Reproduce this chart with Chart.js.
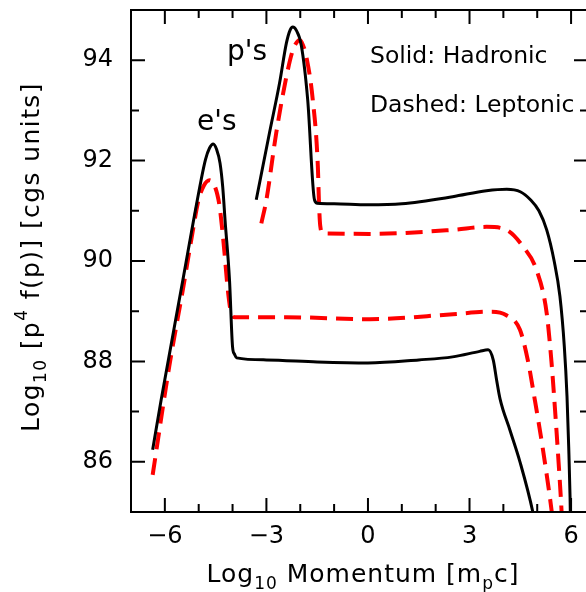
<!DOCTYPE html>
<html>
<head>
<meta charset="utf-8">
<script src="https://cdn.jsdelivr.net/npm/chart.js@4.4.1/dist/chart.umd.min.js"></script>
<style>
  html, body { margin: 0; padding: 0; overflow: hidden; background: #fff; }
  #wrap { width: 600px; height: 592px; }
</style>
</head>
<body>
<div id="wrap"><canvas id="chart" width="600" height="592"></canvas></div>
<script>
// axis ticks (labelled)
const xTicks = [-6, -3, 0, 3, 6];
const yTicks = [86, 88, 90, 92, 94];

// [log10 p, log10 p^4 f(p)]
const hadronicE = [
  [-6.36, 86.24], [-6.11, 87.23], [-5.5, 89.5], [-4.93, 91.61], [-4.8, 92.02],
  [-4.68, 92.25], [-4.57, 92.33], [-4.47, 92.22], [-4.37, 91.95], [-4.29, 91.47],
  [-4.22, 90.8], [-4.09, 89.62], [-4.0, 88.29], [-3.94, 88.14], [-3.88, 88.07],
  [-3.0, 88.03], [-1.5, 87.99], [0.0, 87.97], [1.5, 88.03], [2.5, 88.09],
  [3.3, 88.2], [3.55, 88.23], [3.7, 88.03], [3.8, 87.63], [3.9, 87.26],
  [4.2, 86.62], [4.49, 86.0], [4.87, 85.0], [4.95, 84.7]
];
const hadronicP = [
  [-3.30, 91.22], [-2.91, 92.55], [-2.61, 93.55], [-2.41, 94.34], [-2.3, 94.6],
  [-2.22, 94.66], [-2.12, 94.6], [-1.97, 94.3], [-1.78, 93.21], [-1.58, 91.22],
  [-1.49, 91.15], [-1.0, 91.14], [0.0, 91.12], [1.0, 91.14], [2.5, 91.28],
  [3.5, 91.4], [4.1, 91.43], [4.5, 91.38], [4.8, 91.22], [5.05, 91.0],
  [5.28, 90.62], [5.5, 90.0], [5.67, 89.3], [5.8, 88.3], [5.88, 87.3],
  [5.93, 86.3], [5.97, 85.3], [5.99, 84.5]
];
const leptonicE = [
  [-6.36, 85.74], [-5.87, 87.9], [-5.45, 89.5], [-5.2, 90.5], [-5.01, 91.2],
  [-4.85, 91.5], [-4.68, 91.61], [-4.52, 91.48], [-4.39, 91.12], [-4.3, 90.6],
  [-4.24, 90.18], [-4.14, 89.42], [-4.04, 88.96], [-3.94, 88.88], [-2.41, 88.88],
  [0.05, 88.84], [2.51, 88.94], [3.6, 88.99], [4.09, 88.92], [4.49, 88.63],
  [4.72, 88.03], [4.93, 87.23], [5.17, 86.24], [5.43, 85.0], [5.48, 84.7]
];
const leptonicP = [
  [-3.15, 90.75], [-3.0, 91.22], [-2.71, 92.55], [-2.41, 93.67], [-2.22, 94.2],
  [-2.1, 94.36], [-2.02, 94.40], [-1.92, 94.3], [-1.82, 94.07], [-1.63, 93.21],
  [-1.48, 91.88], [-1.45, 91.22], [-1.41, 90.7], [-1.33, 90.55], [0.05, 90.54],
  [2.51, 90.62], [3.5, 90.68], [4.09, 90.62], [4.59, 90.28], [4.98, 89.82],
  [5.28, 88.96], [5.42, 88.0], [5.53, 87.0], [5.63, 86.0], [5.72, 85.0], [5.75, 84.5]
];

const FONT = "'DejaVu Sans', sans-serif";

function toPoints(arr) {
  return arr.map(p => ({ x: p[0], y: p[1] }));
}

function solid(arr) {
  return {
    data: toPoints(arr), showLine: true, borderColor: "#000", borderWidth: 3,
    pointRadius: 0, fill: false, cubicInterpolationMode: "monotone"
  };
}
function dashed(arr) {
  return {
    data: toPoints(arr), showLine: true, borderColor: "#ff0000", borderWidth: 4,
    borderDash: [17, 9], pointRadius: 0, fill: false, cubicInterpolationMode: "monotone"
  };
}

// draw a run of text pieces; each piece {t, size, dy}
function drawPieces(ctx, pieces, x, y, spacing) {
  ctx.letterSpacing = spacing + "px";
  let total = 0;
  pieces.forEach(p => {
    ctx.font = p.size + "px " + FONT;
    p.w = ctx.measureText(p.t).width;
    total += p.w;
  });
  let cx = x - total / 2;
  pieces.forEach(p => {
    ctx.font = p.size + "px " + FONT;
    ctx.fillText(p.t, cx, y + (p.dy || 0));
    cx += p.w;
  });
  ctx.letterSpacing = "0px";
}

function noPadding(s) {
  s.paddingTop = 0; s.paddingBottom = 0;
  s.paddingLeft = 0; s.paddingRight = 0;
}

const framePlugin = {
  id: "frame",
  afterDatasetsDraw(chart) {
    const { ctx, chartArea: a, scales } = chart;
    const xs = scales.x, ys = scales.y;
    ctx.save();
    ctx.strokeStyle = "#000";
    ctx.lineWidth = 2;
    ctx.strokeRect(a.left, a.top, a.right - a.left, a.bottom - a.top);
    ctx.beginPath();
    for (let v = -7; v <= 6; v++) {
      const px = xs.getPixelForValue(v);
      const len = v % 3 === 0 ? 14 : 8;
      ctx.moveTo(px, a.bottom); ctx.lineTo(px, a.bottom - len);
      ctx.moveTo(px, a.top); ctx.lineTo(px, a.top + len);
    }
    for (let v = 85; v <= 95; v++) {
      const py = ys.getPixelForValue(v);
      const len = v % 2 === 0 ? 14 : 8;
      ctx.moveTo(a.left, py); ctx.lineTo(a.left + len, py);
      ctx.moveTo(a.right, py); ctx.lineTo(a.right - len, py);
    }
    ctx.stroke();
    ctx.restore();
  },
  afterDraw(chart) {
    const ctx = chart.ctx;
    ctx.save();
    ctx.fillStyle = "#000";
    ctx.textBaseline = "alphabetic";
    ctx.textAlign = "left";

    // annotations
    ctx.font = "23.5px " + FONT;
    ctx.fillText("Solid: Hadronic", 370, 63);
    ctx.fillText("Dashed: Leptonic", 370, 112);
    ctx.font = "28px " + FONT;
    ctx.fillText("p's", 227, 60);
    ctx.fillText("e's", 197, 130);

    // x title
    drawPieces(ctx, [
      { t: "Log", size: 25 }, { t: "10", size: 17, dy: 7 },
      { t: " Momentum [m", size: 25 }, { t: "p", size: 17, dy: 7 },
      { t: "c]", size: 25 }
    ], 363, 582, 1);

    // y title
    ctx.translate(39, 257);
    ctx.rotate(-Math.PI / 2);
    drawPieces(ctx, [
      { t: "Log", size: 25 }, { t: "10", size: 17, dy: 7 },
      { t: " [p", size: 25 }, { t: "4", size: 17, dy: -12 },
      { t: " f(p)] [cgs units]", size: 25 }
    ], 0, 0, 1.4);
    ctx.restore();
  }
};

new Chart(document.getElementById("chart").getContext("2d"), {
  type: "scatter",
  data: {
    datasets: [solid(hadronicE), solid(hadronicP), dashed(leptonicE), dashed(leptonicP)]
  },
  options: {
    responsive: false,
    animation: false,
    layout: { padding: { top: 10, right: 12, left: 0, bottom: 0 } },
    plugins: { legend: { display: false }, tooltip: { enabled: false } },
    scales: {
      x: {
        type: "linear", min: -7, max: 6.5,
        grid: { display: false, drawTicks: false },
        border: { display: false },
        afterBuildTicks: s => { s.ticks = xTicks.map(v => ({ value: v })); },
        afterFit: s => { s.height = 80; noPadding(s); },
        ticks: {
          color: "#000", font: { family: FONT, size: 24 }, padding: 10,
          maxRotation: 0, autoSkip: false,
          callback: v => String(v).replace("-", "\u2212")
        }
      },
      y: {
        type: "linear", min: 85, max: 95,
        grid: { display: false, drawTicks: false },
        border: { display: false },
        afterBuildTicks: s => { s.ticks = yTicks.map(v => ({ value: v })); },
        afterFit: s => { s.width = 131; noPadding(s); },
        ticks: {
          color: "#000", font: { family: FONT, size: 24 }, padding: 18,
          autoSkip: false
        }
      }
    }
  },
  plugins: [framePlugin]
});
</script>
</body>
</html>
